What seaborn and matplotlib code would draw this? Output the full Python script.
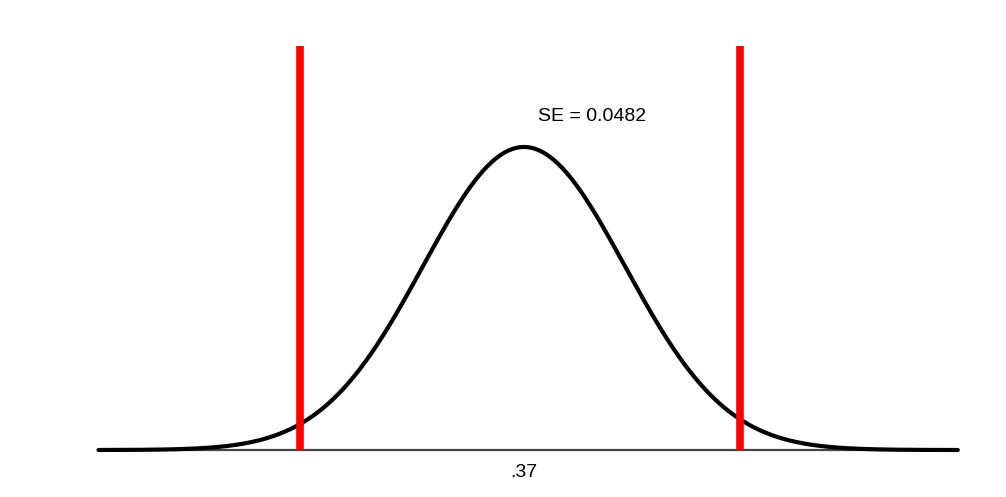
import numpy as np
import pandas as pd
import matplotlib
matplotlib.use("Agg")
import matplotlib.pyplot as plt
import seaborn as sns

# Data
mean = 0.37
se = 0.0482
ci_bounds = [0.263, 0.473]
x_range = [0.167, 0.577]
se_label = "SE = 0.0482"
center_label = ".37"

sns.set_style("white")
plt.rcParams['font.family'] = ['Liberation Sans', 'DejaVu Sans']

xs = np.linspace(x_range[0], x_range[1], 600)
ys = np.exp(-0.5 * ((xs - mean) / se) ** 2)
df = pd.DataFrame({"x": xs, "y": ys})

fig = plt.figure(figsize=(10.06, 4.97), dpi=100)
ax = fig.add_axes([0, 0, 1, 1])

# baseline
ax.plot(x_range, [0, 0], color="#444444", lw=1.6, zorder=1)
sns.lineplot(data=df, x="x", y="y", ax=ax, color="black", lw=3.0, zorder=2)
for b in ci_bounds:
    ax.plot([b, b], [0, 1.333], color="#ff0000", lw=5.5, solid_capstyle="butt", zorder=3)

ax.text(0.3767, 1.10, se_label, fontsize=14, ha="left", va="center", color="black")
ax.text(mean, -0.075, center_label, fontsize=14, ha="center", va="center", color="black")

ax.set_xlim(0.12, 0.60)
ax.set_ylim(-0.155, 1.485)
ax.axis("off")
fig.savefig("out.png", dpi=100)
